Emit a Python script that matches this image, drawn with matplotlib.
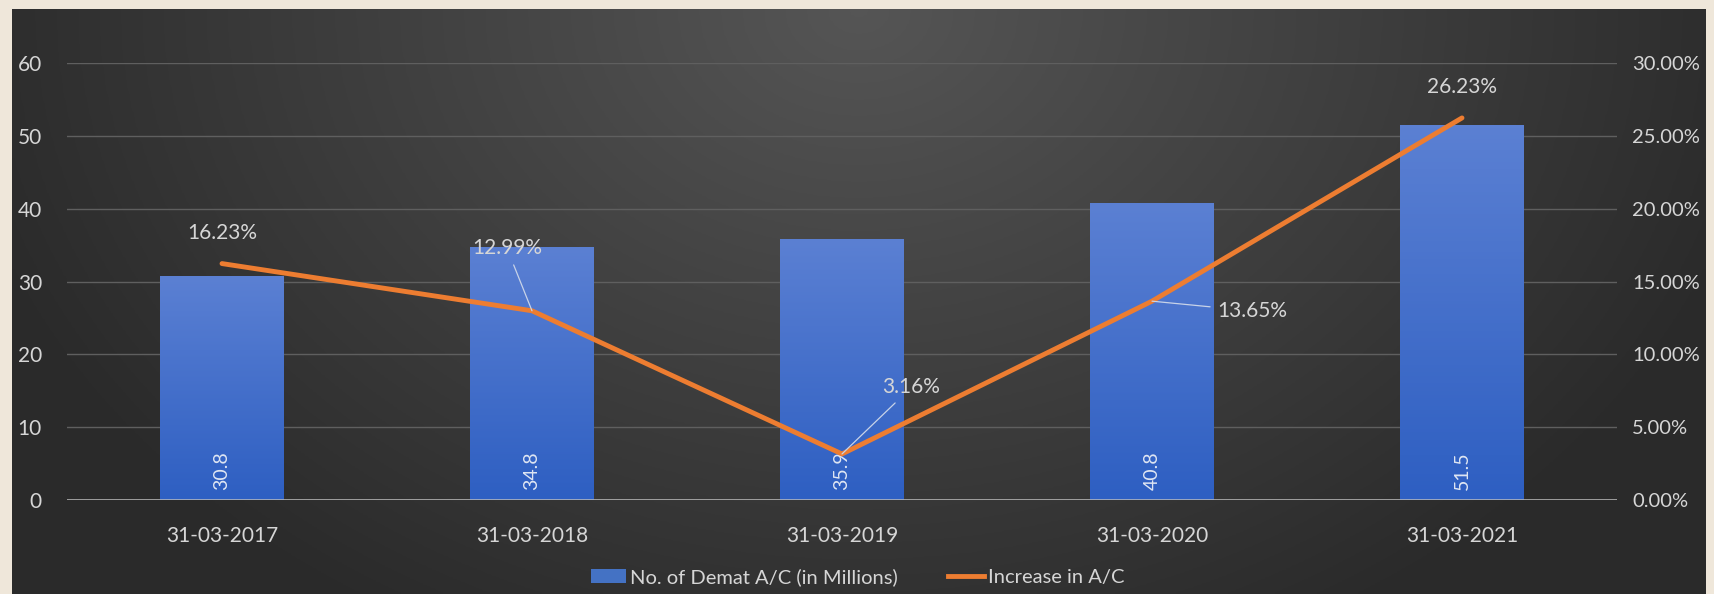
import numpy as np
import matplotlib
matplotlib.use("Agg")
import matplotlib.pyplot as plt
from matplotlib.lines import Line2D
from matplotlib.patches import Patch
from matplotlib.colors import LinearSegmentedColormap

# chart data
dates = ['31-03-2017', '31-03-2018', '31-03-2019', '31-03-2020', '31-03-2021']
accounts = [30.8, 34.8, 35.9, 40.8, 51.5]          # millions
increase = [16.23, 12.99, 3.16, 13.65, 26.23]      # percent
bar_labels = ['30.8', '34.8', '35.9', '40.8', '51.5']
pct_labels = ['16.23%', '12.99%', '3.16%', '13.65%', '26.23%']

plt.rcParams['font.family'] = ['Lato', 'DejaVu Sans']
txt = '#d6d6d6'
fs = 15

fig = plt.figure(figsize=(17.15, 5.94), dpi=100)
fig.patch.set_facecolor('#efe7da')

# dark panel, lighter toward the top centre
bg = fig.add_axes([12 / 1715, 0, 1694 / 1715, 585 / 594], zorder=0)
gx, gy = np.meshgrid(np.linspace(-1, 1, 400), np.linspace(-1, 1, 200))
r = np.sqrt(gx ** 2 + ((gy - 1.0) * 0.45) ** 2)
shade = np.clip(1 - r / 1.1, 0, 1)
val = 0.165 + 0.17 * shade
bg.imshow(np.dstack([val, val, val]), aspect='auto', extent=[0, 1, 0, 1], origin='lower')
bg.axis('off')

ax = fig.add_axes([67 / 1715, 94 / 594, 1550 / 1715, 437 / 594], zorder=1)
ax.patch.set_alpha(0)
x = np.arange(len(dates))

bars = ax.bar(x, accounts, width=0.4, color='#4472c4', zorder=2)
# vertical gradient on each bar
grad = np.linspace(0, 1, 100).reshape(-1, 1)
bcmap = LinearSegmentedColormap.from_list('b', ['#2e5fc2', '#5b80d3'])
for b in bars:
    bx, bw, bh = b.get_x(), b.get_width(), b.get_height()
    im = ax.imshow(grad, cmap=bcmap, origin='lower', aspect='auto',
                   extent=[bx, bx + bw, 0, bh], zorder=2)
    im.set_clip_path(b)
    b.set_alpha(0)

for i, lab in enumerate(bar_labels):
    ax.annotate(lab, (x[i], 0), xytext=(0, 7), textcoords='offset points',
                rotation=90, ha='center', va='bottom', color='#dfe6f3',
                fontsize=fs - 1, zorder=5)

ax.set_xlim(-0.5, len(dates) - 0.5)
ax.set_ylim(0, 60)
ax.set_yticks(range(0, 61, 10))
ax.grid(axis='y', color='#5f5f5f', linewidth=1)
ax.set_axisbelow(True)
ax.set_xticks(x)
ax.set_xticklabels(dates)
ax.tick_params(axis='both', length=0, colors=txt, labelsize=fs)
ax.tick_params(axis='y', pad=18)
ax.tick_params(axis='x', pad=19)
for s in ax.spines.values():
    s.set_visible(False)
ax.axhline(0, color='#bdbdbd', linewidth=1.8, zorder=3)

ax2 = ax.twinx()
ax2.set_zorder(2)
ax2.patch.set_alpha(0)
ax2.plot(x, increase, color='#ed7d31', linewidth=3.5, solid_capstyle='round', zorder=4)
ax2.set_ylim(0, 30)
ax2.set_yticks(range(0, 31, 5))
ax2.set_yticklabels([f'{v:.2f}%' for v in range(0, 31, 5)])
ax2.tick_params(axis='y', length=0, colors=txt, labelsize=fs - 0.5, pad=11)
for s in ax2.spines.values():
    s.set_visible(False)

# percentage labels (offsets in points), some with leader lines
offsets = [(0, 22), (-18, 45), (50, 48), (72, -7), (0, 22)]
leader = [False, True, True, True, False]
for i, lab in enumerate(pct_labels):
    dx, dy = offsets[i]
    arrow = dict(arrowstyle='-', color='#c8d3e8', lw=0.9, shrinkA=3, shrinkB=0) if leader[i] else None
    ax2.annotate(lab, (x[i], increase[i]), xytext=(dx, dy), textcoords='offset points',
                 ha='center', va='center', color=txt, fontsize=fs,
                 arrowprops=arrow, zorder=6)

handles = [Patch(facecolor='#4472c4', edgecolor='none'),
           Line2D([0], [0], color='#ed7d31', linewidth=3.5)]
fig.legend(handles, ['No. of Demat A/C (in Millions)', 'Increase in A/C'],
           loc='center', bbox_to_anchor=(0.5, 1 - 577 / 594), ncol=2, frameon=False,
           fontsize=14.5, labelcolor=txt, handlelength=1.75, handletextpad=0.2,
           columnspacing=2.5)

fig.savefig('out.png', dpi=100, facecolor=fig.get_facecolor())
